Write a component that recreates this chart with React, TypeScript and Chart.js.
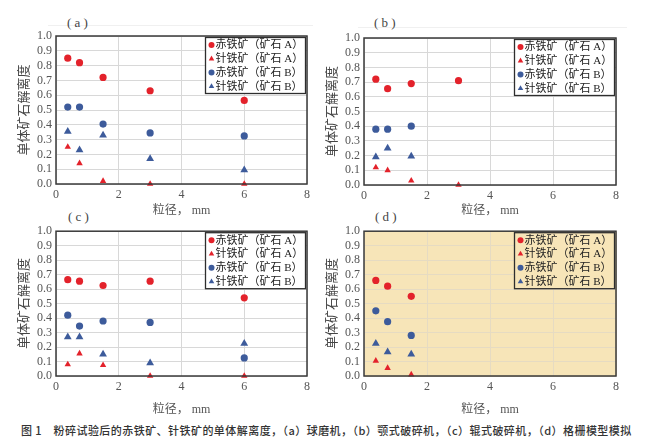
import { useEffect, useRef } from 'react';
import type { CSSProperties } from 'react';
import { Chart, registerables } from 'chart.js';
import type { Plugin } from 'chart.js';

Chart.register(...registerables);

// particle size, mm
const sizes = [0.375, 0.75, 1.5, 3, 6];
const xTicks = [0, 2, 4, 6, 8];
const yTicks = [0, 0.1, 0.2, 0.3, 0.4, 0.5, 0.6, 0.7, 0.8, 0.9, 1.0];

const seriesNames = ['赤铁矿（矿石 A）', '针铁矿（矿石 A）', '赤铁矿（矿石 B）', '针铁矿（矿石 B）'];

// (a) ball mill
const hemA_a = [0.85, 0.82, 0.72, 0.63, 0.565];
const goeA_a = [0.25, 0.14, 0.02, 0, 0];
const hemB_a = [0.52, 0.52, 0.405, 0.345, 0.325];
const goeB_a = [0.355, 0.23, 0.33, 0.17, 0.095];

// (b) jaw crusher
const hemA_b = [0.72, 0.655, 0.69, 0.71, null];
const goeA_b = [0.12, 0.1, 0.03, 0, null];
const hemB_b = [0.38, 0.38, 0.4, null, null];
const goeB_b = [0.19, 0.25, 0.195, null, null];

// (c) roll crusher
const hemA_c = [0.665, 0.655, 0.625, 0.655, 0.54];
const goeA_c = [0.08, 0.155, 0.075, 0, 0];
const hemB_c = [0.42, 0.345, 0.38, 0.37, 0.125];
const goeB_c = [0.27, 0.27, 0.15, 0.09, 0.225];

// (d) grid model simulation
const hemA_d = [0.66, 0.62, 0.55, null, null];
const goeA_d = [0.105, 0.055, 0.01, null, null];
const hemB_d = [0.45, 0.375, 0.28, null, null];
const goeB_d = [0.225, 0.165, 0.15, null, null];

const RED = '#e3222b';
const BLUE = '#3d5b9b';
const SERIF = '"Liberation Serif", "Noto Sans CJK SC", serif';
const CJK = '"Noto Sans CJK SC", sans-serif';

const markerStyles = [
  { color: RED, shape: 'circle', r: 3.6 },
  { color: RED, shape: 'triangle', r: 3.7 },
  { color: BLUE, shape: 'circle', r: 3.6 },
  { color: BLUE, shape: 'triangle', r: 4.5 },
];

function drawMarker(ctx: CanvasRenderingContext2D, shape: string, x: number, y: number, r: number, color: string) {
  ctx.fillStyle = color;
  ctx.beginPath();
  if (shape === 'circle') {
    ctx.arc(x, y, r, 0, Math.PI * 2);
  } else {
    ctx.moveTo(x, y - r);
    ctx.lineTo(x + r * 0.866, y + r * 0.5);
    ctx.lineTo(x - r * 0.866, y + r * 0.5);
    ctx.closePath();
  }
  ctx.fill();
}

// plot background, frame and boxed legend in the top right corner
const framePlugin: Plugin = {
  id: 'frame',
  beforeDraw(chart, _args, opts: any) {
    const { ctx, chartArea: a } = chart;
    ctx.save();
    ctx.fillStyle = opts.bg;
    ctx.fillRect(a.left, a.top, a.width, a.height);
    ctx.restore();
  },
  afterDraw(chart, _args, opts: any) {
    const { ctx, chartArea: a } = chart;
    ctx.save();
    ctx.strokeStyle = '#3a3a3a';
    ctx.lineWidth = 1.5;
    ctx.strokeRect(a.left, a.top, a.width, a.height);

    const w = 100;
    const h = 56;
    const x0 = a.right - 1.5 - w;
    const y0 = a.top + 1.5;
    ctx.fillStyle = opts.bg;
    ctx.fillRect(x0, y0, w, h);
    ctx.strokeStyle = '#2e2e2e';
    ctx.lineWidth = 1.3;
    ctx.strokeRect(x0, y0, w, h);

    ctx.font = '11px ' + SERIF;
    ctx.textBaseline = 'middle';
    chart.data.datasets.forEach((d, i) => {
      const m = markerStyles[i];
      const cy = y0 + 7.5 + i * 13.8;
      drawMarker(ctx, m.shape, x0 + 6, cy, i === 1 || i === 3 ? 3.2 : 3, m.color);
      ctx.fillStyle = '#222';
      ctx.fillText(String(d.label), x0 + 10, cy + 0.5);
    });
    ctx.restore();
  },
};

interface PanelProps {
  series: (number | null)[][];
  bg: string;
  gridColor: string;
  pad: { left: number; top: number; right: number; bottom: number };
  yWidth: number;
  xHeight: number;
  yTitlePad: number;
  xTitlePad: number;
  style: CSSProperties;
}

function Panel({ series, bg, gridColor, pad, yWidth, xHeight, yTitlePad, xTitlePad, style }: PanelProps) {
  const canvasRef = useRef<HTMLCanvasElement>(null);
  const chartRef = useRef<Chart | null>(null);

  useEffect(() => {
    if (!canvasRef.current) return;
    if (chartRef.current) chartRef.current.destroy();

    const datasets = series.map((vals, i) => {
      const m = markerStyles[i];
      return {
        label: seriesNames[i],
        data: sizes
          .map((x, j) => ({ x, y: vals[j] }))
          .filter(p => p.y !== null) as { x: number; y: number }[],
        pointStyle: m.shape,
        pointRadius: m.r,
        pointHoverRadius: m.r,
        backgroundColor: m.color,
        borderColor: m.color,
        pointBorderWidth: 0,
        showLine: false,
        clip: false as const,
      };
    });

    chartRef.current = new Chart(canvasRef.current, {
      type: 'scatter',
      data: { datasets },
      plugins: [framePlugin],
      options: {
        animation: false,
        responsive: true,
        maintainAspectRatio: false,
        layout: { padding: pad },
        plugins: {
          legend: { display: false },
          tooltip: { enabled: false },
          frame: { bg },
        } as any,
        scales: {
          x: {
            type: 'linear',
            min: 0,
            max: 8,
            afterBuildTicks: s => {
              s.ticks = xTicks.map(v => ({ value: v }));
            },
            afterFit: s => {
              s.height = xHeight;
            },
            grid: { color: gridColor, lineWidth: 1, drawTicks: false },
            border: { display: false },
            ticks: {
              padding: 4,
              color: '#555',
              font: { family: SERIF, size: 12 },
              autoSkip: false,
              maxRotation: 0,
            },
            title: {
              display: true,
              text: '粒径， mm',
              color: '#555',
              font: { family: SERIF, size: 12 },
              padding: { top: 0, bottom: xTitlePad },
            },
          },
          y: {
            type: 'linear',
            min: 0,
            max: 1,
            afterBuildTicks: s => {
              s.ticks = yTicks.map(v => ({ value: v }));
            },
            afterFit: s => {
              s.width = yWidth;
            },
            grid: { color: gridColor, lineWidth: 1, drawTicks: false },
            border: { display: false },
            ticks: {
              padding: 4,
              color: '#555',
              font: { family: SERIF, size: 12 },
              autoSkip: false,
              callback: v => Number(v).toFixed(1),
            },
            title: {
              display: true,
              text: '单体矿石解离度',
              color: '#444',
              font: { family: CJK, size: 13 },
              padding: { top: yTitlePad, bottom: 0 },
            },
          },
        },
      },
    });

    return () => {
      if (chartRef.current) {
        chartRef.current.destroy();
        chartRef.current = null;
      }
    };
  }, [series, bg, gridColor, pad, yWidth, xHeight, yTitlePad, xTitlePad]);

  return (
    <div style={{ position: 'absolute', ...style }}>
      <canvas ref={canvasRef}></canvas>
    </div>
  );
}

const labelStyle: CSSProperties = {
  position: 'absolute',
  fontFamily: SERIF,
  fontSize: 13,
  color: '#444',
  lineHeight: '14px',
  whiteSpace: 'pre',
};

const seriesA = [hemA_a, goeA_a, hemB_a, goeB_a];
const seriesB = [hemA_b, goeA_b, hemB_b, goeB_b];
const seriesC = [hemA_c, goeA_c, hemB_c, goeB_c];
const seriesD = [hemA_d, goeA_d, hemB_d, goeB_d];

const padLeft = { left: 0, top: 16, right: 18, bottom: 0 };
const padRight = { left: 0, top: 18, right: 35, bottom: 0 };
const padLeftLow = { left: 0, top: 8, right: 18, bottom: 0 };
const padRightLow = { left: 0, top: 8, right: 35, bottom: 0 };

export default function App() {
  return (
    <div style={{ position: 'absolute', left: 0, top: 0, width: 651, height: 445, background: '#fff', overflow: 'hidden' }}>
      <div style={{ position: 'absolute', left: 48, top: 25, width: 265, height: 1, background: '#f0f0f0' }} />
      <div style={{ position: 'absolute', left: 358, top: 27, width: 269, height: 1, background: '#f0f0f0' }} />
      <div style={{ ...labelStyle, left: 67, top: 16 }}>( a )</div>
      <div style={{ ...labelStyle, left: 374, top: 16 }}>( b )</div>
      <div style={{ ...labelStyle, left: 68, top: 210 }}>( c )</div>
      <div style={{ ...labelStyle, left: 375, top: 210 }}>( d )</div>

      <Panel series={seriesA} bg="#ffffff" gridColor="#d8d8d8" pad={padLeft} yWidth={56} xHeight={36}
        yTitlePad={15} xTitlePad={2} style={{ left: 0, top: 20, width: 325, height: 200 }} />
      <Panel series={seriesB} bg="#ffffff" gridColor="#d8d8d8" pad={padRight} yWidth={44} xHeight={35}
        yTitlePad={3} xTitlePad={2} style={{ left: 320, top: 20, width: 331, height: 200 }} />
      <Panel series={seriesC} bg="#ffffff" gridColor="#d8d8d8" pad={padLeftLow} yWidth={56} xHeight={44}
        yTitlePad={15} xTitlePad={3} style={{ left: 0, top: 220, width: 325, height: 200 }} />
      <Panel series={seriesD} bg="#f7e5b8" gridColor="#e6dbc2" pad={padRightLow} yWidth={44} xHeight={44}
        yTitlePad={3} xTitlePad={3} style={{ left: 320, top: 220, width: 331, height: 200 }} />

      <div style={{ position: 'absolute', left: 21, top: 423, fontFamily: CJK, fontSize: 11, fontWeight: 500, letterSpacing: 0.45, color: '#333', whiteSpace: 'nowrap', lineHeight: '15px' }}>
        图 1　粉碎试验后的赤铁矿、针铁矿的单体解离度，（a）球磨机，（b）颚式破碎机，（c）辊式破碎机，（d）格栅模型模拟
      </div>
    </div>
  );
}
